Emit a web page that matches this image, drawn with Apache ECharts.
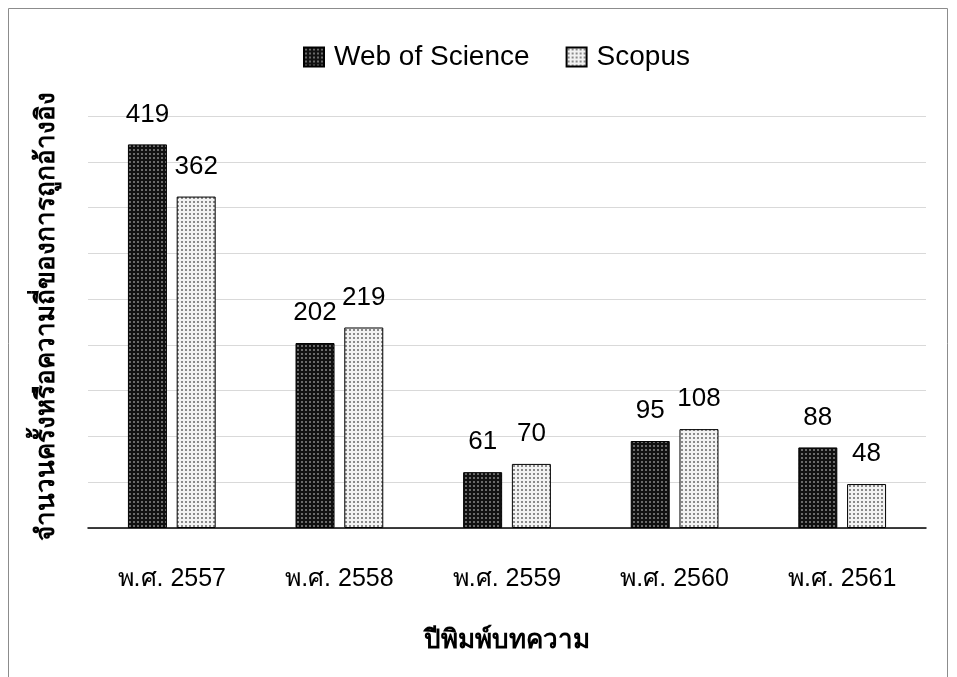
<!DOCTYPE html>
<html><head><meta charset="utf-8">
<script src="https://cdn.jsdelivr.net/npm/echarts@6/dist/echarts.min.js"></script>
<style>html,body{margin:0;padding:0;background:#fff}#c{width:957px;height:677px}</style>
</head><body><div id="c"></div>
<script>
const categories = ['พ.ศ. 2557','พ.ศ. 2558','พ.ศ. 2559','พ.ศ. 2560','พ.ศ. 2561'];
const webOfScience = [419, 202, 61, 95, 88];
const scopus = [362, 219, 70, 108, 48];
const seriesNames = ['Web of Science', 'Scopus'];
const xTitle = 'ปีพิมพ์บทความ';
const yTitle = 'จำนวนครั้งหรือความถี่ของการถูกอ้างอิง';

function makePattern(bg, dot) {
  const c = document.createElement('canvas');
  c.width = 4; c.height = 4;
  const g = c.getContext('2d');
  g.fillStyle = bg; g.fillRect(0,0,4,4);
  g.fillStyle = dot; g.fillRect(1,1,2,2);
  return c;
}
const darkPat = {image: makePattern('#111111', '#6a6a6a'), repeat: 'repeat'};
const lightPat = {image: makePattern('#f2f2f2', '#8a8a8a'), repeat: 'repeat'};
const FONT = '"Liberation Sans", "Noto Sans", sans-serif';

const chart = echarts.init(document.getElementById('c'), null, {renderer: 'canvas'});
chart.setOption({
  backgroundColor: '#fff',
  animation: false,
  textStyle: {fontFamily: FONT},
  graphic: [{type: 'rect', shape: {x: 8.5, y: 8.5, width: 939, height: 700}, style: {fill: 'none', stroke: '#8c8c8c', lineWidth: 1}, silent: true}],
  legend: {
    top: 38, left: 298, itemWidth: 20, itemHeight: 19, itemGap: 36, icon: 'rect',
    textStyle: {fontSize: 28, color: '#000', fontFamily: FONT, padding: [0, 0, 0, 5]},
    data: seriesNames
  },
  grid: {left: 88, right: 31, top: 116, bottom: 149, containLabel: false},
  xAxis: {
    type: 'category', data: categories,
    axisLine: {lineStyle: {color: '#000', width: 1.5}},
    axisTick: {show: false},
    axisLabel: {fontSize: 25, color: '#000', margin: 39, fontFamily: FONT},
    name: xTitle, nameLocation: 'middle', nameGap: 100,
    nameTextStyle: {fontSize: 26, fontWeight: 'bold', color: '#000', fontFamily: FONT}
  },
  yAxis: {
    type: 'value', min: 0, max: 450, interval: 50,
    axisLabel: {show: false}, axisLine: {show: false}, axisTick: {show: false},
    splitLine: {lineStyle: {color: '#d9d9d9', width: 1}},
    name: yTitle, nameLocation: 'middle', nameGap: 28, nameRotate: 90,
    nameTextStyle: {fontSize: 26, fontWeight: 'bold', color: '#000', fontFamily: FONT, padding: [0, 0, 0, 12]}
  },
  series: [
    {name: seriesNames[0], type: 'bar', data: webOfScience, barWidth: 39, barGap: '25%',
     itemStyle: {color: darkPat, borderColor: '#000', borderWidth: 1},
     label: {show: true, position: 'top', distance: 17, fontSize: 26, color: '#000', fontFamily: FONT}},
    {name: seriesNames[1], type: 'bar', data: scopus, barWidth: 39,
     itemStyle: {color: lightPat, borderColor: '#000', borderWidth: 1},
     label: {show: true, position: 'top', distance: 17, fontSize: 26, color: '#000', fontFamily: FONT}}
  ]
});
</script></body></html>
